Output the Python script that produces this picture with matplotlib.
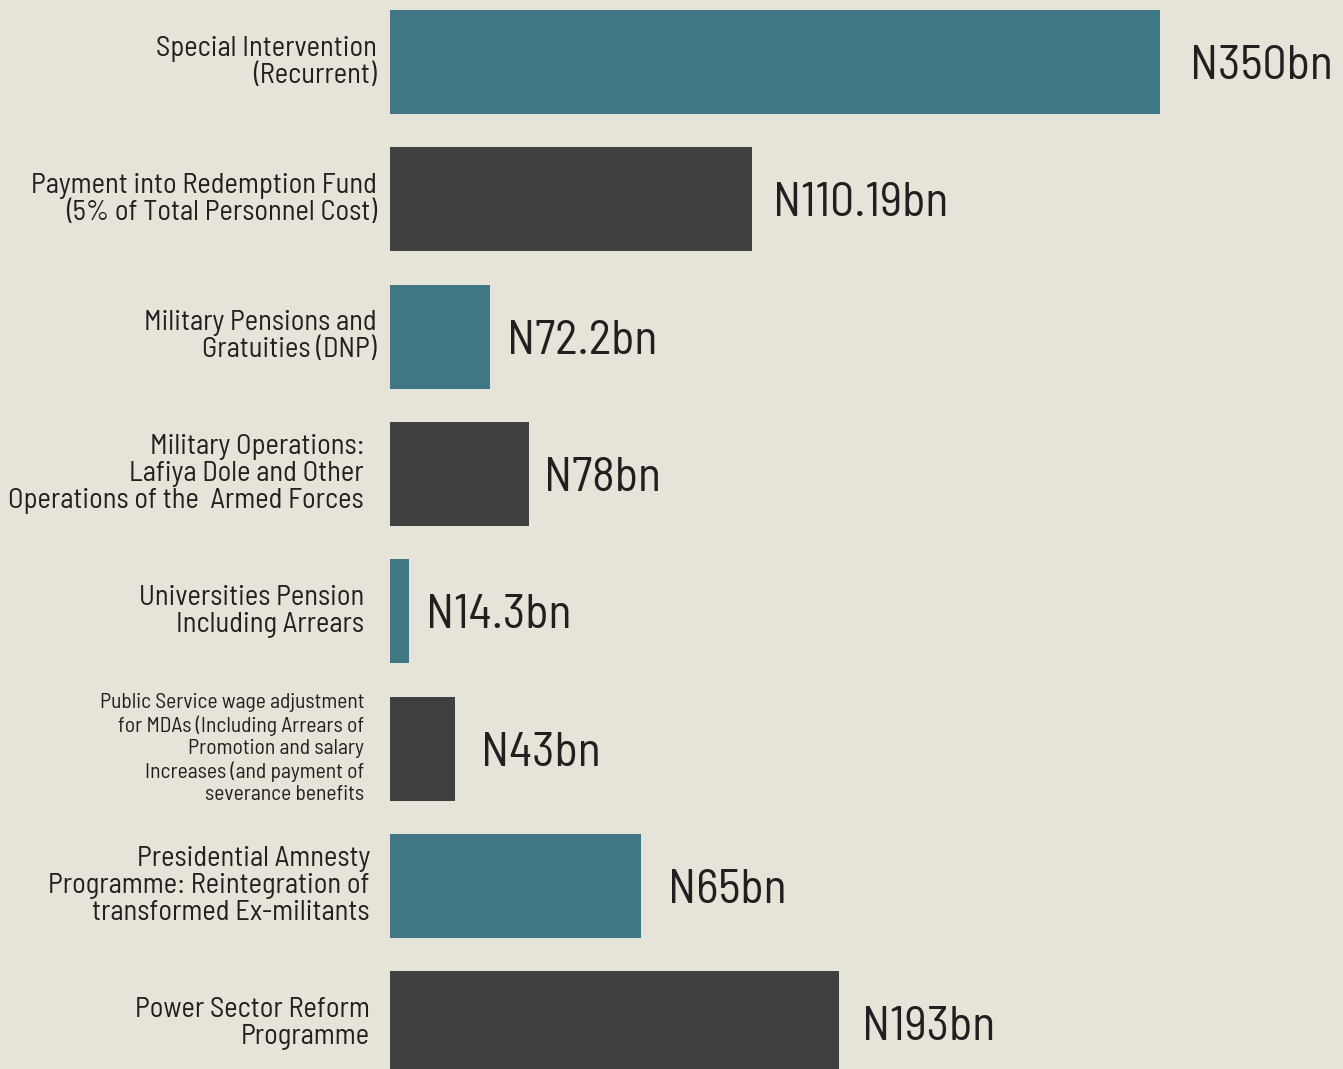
import matplotlib
matplotlib.use("Agg")
import matplotlib.pyplot as plt
from matplotlib import font_manager

# ---- data ----
categories = [
    "Special Intervention\n(Recurrent)",
    "Payment into Redemption Fund\n(5% of Total Personnel Cost)",
    "Military Pensions and\nGratuities (DNP)",
    "Military Operations:\nLafiya Dole and Other\nOperations of the  Armed Forces",
    "Universities Pension\nIncluding Arrears",
    "Public Service wage adjustment\nfor MDAs (Including Arrears of\nPromotion and salary\nIncreases (and payment of\nseverance benefits",
    "Presidential Amnesty\nProgramme: Reintegration of\ntransformed Ex-militants",
    "Power Sector Reform\nProgramme",
]
# bar lengths as drawn in the picture (in N bn, scaled to the N350bn bar)
bar_lengths = [350, 164.5, 45.5, 63.2, 8.6, 29.5, 114.1, 204.1]
value_labels = ["N350bn", "N110.19bn", "N72.2bn", "N78bn", "N14.3bn", "N43bn", "N65bn", "N193bn"]

# ---- style / layout ----
BG = "#E6E3D8"
TEAL = "#3F7784"
DARK = "#404040"
TXT = "#231F20"
colors = [TEAL, DARK] * 4
cat_offsets_px = [13, 13, 13, 26, 26, 26, 20, 20]
cat_sizes = [20.5, 20.5, 20.5, 20.5, 20.5, 15.5, 20.5, 20.5]
cat_spacing = [1.05, 1.05, 1.05, 1.05, 1.05, 1.2, 1.05, 1.05]
val_gaps_px = [30, 21, 17, 15, 17, 26, 27, 23]

avail = {f.name for f in font_manager.fontManager.ttflist}
fam = [f for f in ["Barlow Semi Condensed", "Asap Condensed", "Archivo Narrow", "DejaVu Sans"] if f in avail]
plt.rcParams["font.family"] = fam[:1] + ["DejaVu Sans"]

W, H = 1343, 1069
fig = plt.figure(figsize=(W / 100, H / 100), dpi=100, facecolor=BG)
x0 = 390
px_per_unit = 770 / 350.0
ax = fig.add_axes([x0 / W, 0, (W - x0) / W, 1])
ax.set_facecolor(BG)
ax.set_xlim(0, (W - x0) / px_per_unit)
step = 137.3
ax.set_ylim((H - 62) / step, -62 / step)
for s in ax.spines.values():
    s.set_visible(False)
ax.set_xticks([])
ax.set_yticks([])

ypos = list(range(len(categories)))
ax.barh(ypos, bar_lengths, height=104 / step, color=colors, left=0)

for i, (cat, val, L) in enumerate(zip(categories, value_labels, bar_lengths)):
    ax.annotate(cat, xy=(0, i), xytext=(-cat_offsets_px[i] * 0.72, 0),
                textcoords="offset points", ha="right", va="center",
                fontsize=cat_sizes[i], color=TXT, linespacing=cat_spacing[i],
                annotation_clip=False)
    ax.annotate(val, xy=(L, i), xytext=(val_gaps_px[i] * 0.72, 0),
                textcoords="offset points", ha="left", va="center_baseline",
                fontsize=34.5, color=TXT, annotation_clip=False)

fig.savefig("out.png", dpi=100, facecolor=BG)
